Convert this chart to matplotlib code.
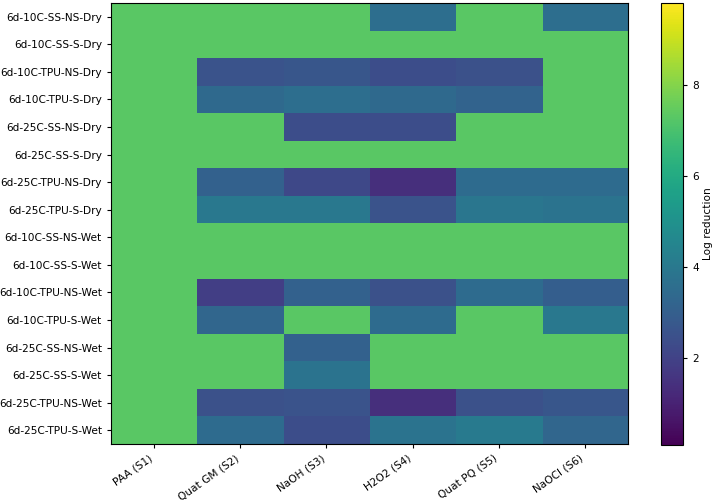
import numpy as np
import matplotlib
matplotlib.use("Agg")
import matplotlib.pyplot as plt

rows = ["6d-10C-SS-NS-Dry", "6d-10C-SS-S-Dry", "6d-10C-TPU-NS-Dry", "6d-10C-TPU-S-Dry",
        "6d-25C-SS-NS-Dry", "6d-25C-SS-S-Dry", "6d-25C-TPU-NS-Dry", "6d-25C-TPU-S-Dry",
        "6d-10C-SS-NS-Wet", "6d-10C-SS-S-Wet", "6d-10C-TPU-NS-Wet", "6d-10C-TPU-S-Wet",
        "6d-25C-SS-NS-Wet", "6d-25C-SS-S-Wet", "6d-25C-TPU-NS-Wet", "6d-25C-TPU-S-Wet"]
cols = ["PAA (S1)", "Quat GM (S2)", "NaOH (S3)", "H2O2 (S4)", "Quat PQ (S5)", "NaOCl (S6)"]

G = 7.3
paa     = [G, G, G, G, G, G, G, G, G, G, G, G, G, G, G, G]
quat_gm = [G, G, 2.6, 3.4, G, G, 3.1, 4.0, G, G, 1.9, 3.3, G, G, 2.5, 3.5]
naoh    = [G, G, 2.7, 3.6, 2.4, G, 2.2, 4.0, G, G, 3.1, G, 3.1, 3.8, 2.6, 2.4]
h2o2    = [3.6, G, 2.4, 3.4, 2.4, G, 1.4, 2.6, G, G, 2.5, 3.5, G, G, 1.4, 3.8]
quat_pq = [G, G, 2.5, 3.2, G, G, 3.5, 3.9, G, G, 3.5, G, G, G, 2.5, 4.1]
naocl   = [3.6, G, G, G, G, G, 3.5, 3.8, G, G, 3.0, 4.0, G, G, 2.7, 3.3]

data = np.array([paa, quat_gm, naoh, h2o2, quat_pq, naocl]).T

fig = plt.figure(figsize=(7.14, 5.0), dpi=100)
ax = fig.add_axes([0.1555, 0.112, 0.7241, 0.882])
cax = fig.add_axes([0.9258, 0.110, 0.0308, 0.884])
im = ax.imshow(data, cmap="viridis", aspect="auto", vmin=0.1, vmax=9.8)
ax.set_xticks(range(len(cols)))
ax.set_xticklabels(cols, rotation=35, ha="right", fontsize=7.6)
ax.set_yticks(range(len(rows)))
ax.set_yticklabels(rows, fontsize=7.6)
ax.tick_params(length=3)
cb = fig.colorbar(im, cax=cax)
cb.set_label("Log reduction", fontsize=7.6, labelpad=3)
cb.set_ticks([2, 4, 6, 8])
cb.ax.tick_params(labelsize=7.6, length=3)
fig.savefig("out.png", dpi=100)
